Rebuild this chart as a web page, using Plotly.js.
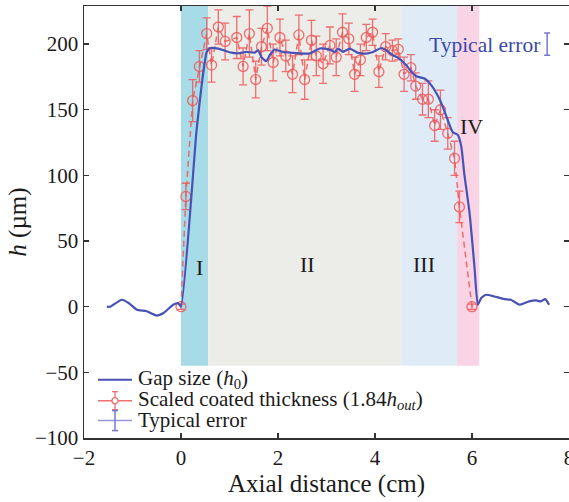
<!DOCTYPE html>
<html>
<head>
<meta charset="utf-8">
<script src="https://cdn.plot.ly/plotly-3.0.1.min.js"></script>
<style>html,body{margin:0;padding:0;background:#fff;}#chart{width:569px;height:502px;}</style>
</head>
<body>
<div id="chart"></div>
<script>
// Gap size (h0) profile
var gapX = [-1.53,-1.46,-1.22,-1.08,-0.91,-0.71,-0.50,-0.36,-0.16,-0.06,0.0,0.32,0.43,0.53,0.60,0.77,0.90,1.04,1.18,1.35,1.52,1.59,1.66,1.76,1.83,1.93,2.10,2.31,2.52,2.65,2.86,2.96,3.07,3.17,3.24,3.34,3.48,3.65,3.82,3.96,4.13,4.23,4.37,4.50,4.64,4.75,4.85,5.02,5.16,5.29,5.40,5.50,5.60,5.71,5.78,5.84,5.95,6.05,6.12,6.19,6.29,6.46,6.67,6.80,6.98,7.18,7.32,7.42,7.51,7.59];
var gapY = [0,0,5.3,2.8,-2.3,-3.5,-6.8,-4.8,1.5,2.8,0,134,170,194,197,196.5,195,193.5,193,194,193.5,195.3,190,187,191.5,195.8,194,193.3,192.8,192.8,196.6,196.6,195.8,194,196.6,194,196.6,193.3,192.8,194,197,195.3,191.5,189,184,179,175.5,173.8,168.7,161,152,142,133,130.7,121.8,101.6,71.2,30.6,1.5,6.6,9.1,7.8,5.8,5.3,1.5,4.1,4.8,4.1,5.8,1.5];

// Scaled coated thickness (1.84 h_out)
var coatX = [0.00,0.10,0.24,0.38,0.53,0.63,0.77,0.91,1.15,1.28,1.41,1.54,1.66,1.78,1.90,2.04,2.16,2.30,2.43,2.55,2.69,2.79,2.93,3.07,3.20,3.33,3.46,3.58,3.70,3.82,3.95,4.08,4.22,4.36,4.48,4.60,4.74,4.84,4.98,5.10,5.23,5.35,5.50,5.64,5.74,6.00];
var coatY = [0,84,157,183,208,184,213,202,205,183,208,173,198,212,186,205,191,177,207,173,203,191,185,199,190,209,204,177,188,205,209,179,198,195,196,177,182,168,158,158,138,150,132,113,76,0];
var coatErr = [2,10,16,12,12,13,13,14,16,14,18,14,14,17,14,14,12,14,15,15,15,15,15,14,14,14,12,13,12,10,10,12,10,8,8,13,10,10,12,14,12,15,12,13,12,2];

// Typical error marker
var typX = [7.55];
var typY = [200];
var typErr = [8.5];

// Regions
var regionNames = ['I','II','III','IV'];
var regionStart = [0.0, 0.56, 4.54, 5.69];
var regionEnd = [0.56, 4.54, 5.69, 6.15];
var regionColors = ['rgb(166,219,231)','rgb(236,236,232)','rgb(223,236,248)','rgb(249,212,228)'];
var regionLabelX = [0.39, 2.61, 5.02, 5.99];
var regionLabelY = [30, 32, 32, 137];

var serif = 'Liberation Serif, Times New Roman, serif';
var blue = 'rgb(72,82,182)';
var red = 'rgba(238,88,88,0.85)';
var typBlue = 'rgb(120,120,200)';

var traces = [
  {x: coatX, y: coatY, type: 'scatter', mode: 'lines+markers', showlegend: false,
   line: {color: red, width: 1.5, dash: '6px,4px'},
   marker: {symbol: 'circle-open', size: 10, color: red, line: {width: 1.3, color: red}},
   error_y: {type: 'data', array: coatErr, visible: true, color: red, thickness: 1.3, width: 4}},
  {x: gapX, y: gapY, type: 'scatter', mode: 'lines', showlegend: false,
   line: {color: blue, width: 2.2, shape: 'spline', smoothing: 0.5}},
  {x: typX, y: typY, type: 'scatter', mode: 'markers', showlegend: false,
   marker: {size: 1, color: typBlue},
   error_y: {type: 'data', array: typErr, visible: true, color: typBlue, thickness: 1.5, width: 3}}
];

var shapes = [];
for (var i = 0; i < regionNames.length; i++) {
  shapes.push({type: 'rect', xref: 'x', yref: 'y', x0: regionStart[i], x1: regionEnd[i], y0: -45, y1: 229,
    fillcolor: regionColors[i], line: {width: 0}, layer: 'below'});
}

// manual legend (paper coords)
function px2x(p){ return (p-84)/485; }
function py2y(p){ return (438.4-p)/432.4; }
shapes.push({type:'line', xref:'paper', yref:'paper', x0:px2x(98), x1:px2x(132), y0:py2y(380), y1:py2y(380), line:{color:blue, width:2}});
shapes.push({type:'line', xref:'paper', yref:'paper', x0:px2x(98), x1:px2x(132), y0:py2y(401), y1:py2y(401), line:{color:red, width:1.5}});
shapes.push({type:'line', xref:'paper', yref:'paper', x0:px2x(115), x1:px2x(115), y0:py2y(392), y1:py2y(410), line:{color:red, width:1.3}});
shapes.push({type:'line', xref:'paper', yref:'paper', x0:px2x(112), x1:px2x(118), y0:py2y(392), y1:py2y(392), line:{color:red, width:1.3}});
shapes.push({type:'line', xref:'paper', yref:'paper', x0:px2x(112), x1:px2x(118), y0:py2y(410), y1:py2y(410), line:{color:red, width:1.3}});
shapes.push({type:'circle', xref:'paper', yref:'paper', xsizemode:'pixel', ysizemode:'pixel', xanchor:px2x(115), yanchor:py2y(401), x0:-3, x1:3, y0:-3, y1:3, line:{color:red, width:1.3}, fillcolor:'white'});
shapes.push({type:'line', xref:'paper', yref:'paper', x0:px2x(98), x1:px2x(132), y0:py2y(421), y1:py2y(421), line:{color:'rgb(150,150,215)', width:1.5}});
shapes.push({type:'line', xref:'paper', yref:'paper', x0:px2x(115), x1:px2x(115), y0:py2y(411), y1:py2y(431), line:{color:typBlue, width:1.5}});
shapes.push({type:'line', xref:'paper', yref:'paper', x0:px2x(112), x1:px2x(118), y0:py2y(411), y1:py2y(411), line:{color:typBlue, width:1.5}});
shapes.push({type:'line', xref:'paper', yref:'paper', x0:px2x(112), x1:px2x(118), y0:py2y(431), y1:py2y(431), line:{color:typBlue, width:1.5}});

var annotations = [];
for (var j = 0; j < regionNames.length; j++) {
  annotations.push({x: regionLabelX[j], y: regionLabelY[j], xref:'x', yref:'y', text: regionNames[j], showarrow:false,
    font:{family: serif, size: 22, color:'#1a1a1a'}});
}
annotations.push({x: 7.45, y: 199, xref:'x', yref:'y', text:'Typical error', showarrow:false, xanchor:'right',
  font:{family: serif, size: 21.5, color:'rgb(60,72,170)'}});
var legendTexts = ['Gap size (<i>h</i><sub>0</sub>)', 'Scaled coated thickness (1.84<i>h</i><sub><i>out</i></sub>)', 'Typical error'];
var legendRows = [379, 400, 420];
for (var k = 0; k < legendTexts.length; k++) {
  annotations.push({x: px2x(136), y: py2y(legendRows[k]), xref:'paper', yref:'paper', text: legendTexts[k], showarrow:false,
    xanchor:'left', yanchor:'middle', font:{family: serif, size: 21, color:'#1a1a1a'}});
}

var axisCommon = {showgrid:false, zeroline:false, showline:true, linecolor:'#333', linewidth:1.5, mirror:'ticks',
  ticks:'inside', ticklen:5, tickcolor:'#333', tickwidth:1.2, ticklabeloverflow:'allow',
  tickfont:{family: serif, size:21, color:'#1a1a1a'}};

var layout = {
  width: 569, height: 502,
  margin: {l:84, r:0, t:6, b:64},
  paper_bgcolor:'white', plot_bgcolor:'white',
  xaxis: Object.assign({}, axisCommon, {range:[-2,8], tickvals:[-2,0,2,4,6,8],
    title:{text:'Axial distance (cm)', font:{family: serif, size:25, color:'#1a1a1a'}, standoff:6}}),
  yaxis: Object.assign({}, axisCommon, {range:[-100,229], tickvals:[-100,-50,0,50,100,150,200],
    title:{text:'<i>h</i> (µm)', font:{family: serif, size:25, color:'#1a1a1a'}, standoff:1}}),
  shapes: shapes,
  annotations: annotations,
  showlegend: false
};

Plotly.newPlot('chart', traces, layout, {displayModeBar:false, staticPlot:true});
</script>
</body>
</html>
